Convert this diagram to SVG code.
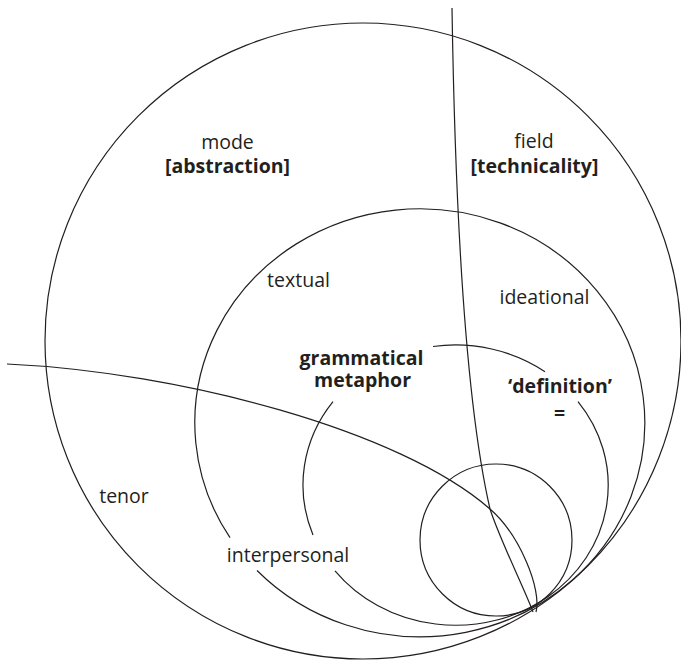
<svg xmlns="http://www.w3.org/2000/svg" width="681" height="660" viewBox="0 0 681 660">
<style>
.ln{fill:none;stroke:#231f20;stroke-width:1.2}
.t{font-family:"Open Sans","DejaVu Sans",sans-serif;font-size:19.5px;fill:#231f20;text-anchor:middle}
.b{font-weight:bold}
</style>
<rect width="681" height="660" fill="#ffffff"/>
<g id="context-circle">
<circle class="ln" cx="363" cy="341" r="318"/>
<text class="t" x="227.5" y="149">mode</text>
<text class="t b" x="227.5" y="173">[abstraction]</text>
<text class="t" x="534" y="148">field</text>
<text class="t b" x="534.5" y="173">[technicality]</text>
<text class="t" x="124" y="503">tenor</text>
</g>
<g id="metafunction-circle">
<path class="ln" d="M 257 570.5 A 225 214 0 1 0 230 537.7"/>
<text class="t" x="298.5" y="287">textual</text>
<text class="t" x="544.5" y="304">ideational</text>
<text class="t" x="288" y="562">interpersonal</text>
</g>
<g id="grammatical-metaphor">
<path class="ln" d="M 433 346.5 A 152.5 140 0 0 1 545 371.7"/>
<path class="ln" d="M 578 401.6 A 152.5 140 0 0 1 335 570.8"/>
<path class="ln" d="M 313 534.9 A 152.5 140 0 0 1 333 401.6"/>
<text class="t b" x="361.5" y="365">grammatical</text>
<text class="t b" x="362.5" y="387">metaphor</text>
<text class="t b" x="560" y="393">‘definition’</text>
<text class="t b" x="559.7" y="419.5">=</text>
</g>
<g id="small-circle">
<circle class="ln" cx="496" cy="540" r="76"/>
</g>
<g id="connectors">
<path class="ln" d="M 7 364 C 180 372, 400 430, 490 509 C 520 535, 542 590, 536 612"/>
<path class="ln" d="M 452 8 C 455 200, 465 400, 490 509 C 500 540, 525 590, 533 612"/>
</g>
</svg>
